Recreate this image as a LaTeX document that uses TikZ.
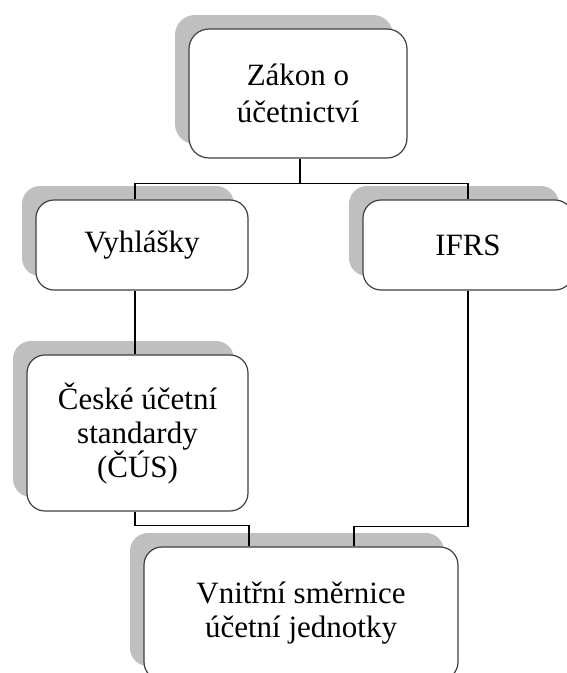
\documentclass[tikz,border=0pt]{standalone}
\usepackage{fontspec}
\setmainfont{Liberation Serif}
\usetikzlibrary{shadows}
\begin{document}
\begin{tikzpicture}[x=1pt,y=1pt,
  orgbox/.style={draw=black!75, line width=1.2pt, fill=white, rounded corners=18pt,
    align=center, inner sep=0pt, font=\fontsize{31}{34}\selectfont,
    general shadow={shadow xshift=-14pt, shadow yshift=14pt, fill=black!25, draw=none}},
  link/.style={draw=black, line width=1.1pt}]
\useasboundingbox (0,0) rectangle (566,-673);
\node[orgbox, minimum width=218pt, minimum height=129pt, rounded corners=20pt,
  font=\fontsize{31}{37.5}\selectfont] (top) at (298,-93.5) {Zákon o\\účetnictví};
\node[orgbox, minimum width=212pt, minimum height=90pt] (vy) at (142,-245) {Vyhlášky};
\node[orgbox, minimum width=210pt, minimum height=90pt] (ifrs) at (468,-245) {IFRS};
\node[orgbox, minimum width=221pt, minimum height=156pt] (cus) at (137.5,-433) {České účetní\\standardy\\(ČÚS)};
\node[orgbox, minimum width=314pt, minimum height=133pt] (bot) at (301,-613.5) {Vnitřní směrnice\\účetní jednotky};
\draw[link] ([xshift=2pt]top.south) -- ++(0,-25) -| ([xshift=-7pt]vy.north);
\draw[link] ([xshift=2pt]top.south) -- ++(0,-25) -| (ifrs.north);
\draw[link] ([xshift=-7pt]vy.south) -- ([xshift=-2.5pt]cus.north);
\draw[link] ([xshift=-2.5pt]cus.south) -- ++(0,-14) -| ([xshift=-52pt]bot.north);
\draw[link] (ifrs.south) -- ++(0,-236) -| ([xshift=53pt]bot.north);
\end{tikzpicture}
\end{document}
